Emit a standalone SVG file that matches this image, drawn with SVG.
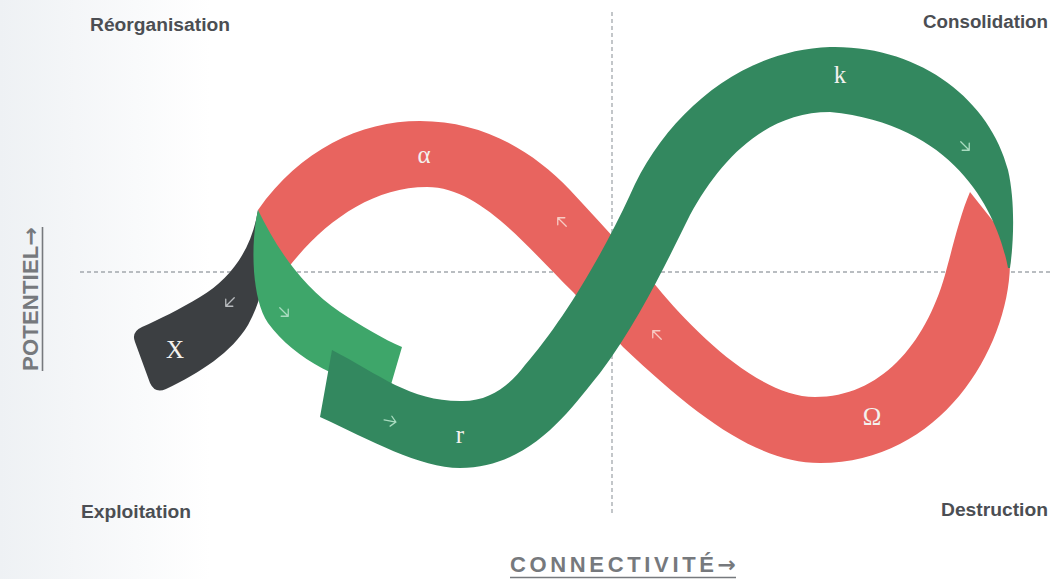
<svg xmlns="http://www.w3.org/2000/svg" width="1051" height="579" viewBox="0 0 1051 579">
<defs>
<linearGradient id="bg" x1="0" y1="0" x2="1" y2="0">
<stop offset="0" stop-color="#eef1f4"/>
<stop offset="0.2" stop-color="#ffffff"/>
<stop offset="1" stop-color="#ffffff"/>
</linearGradient>
<path id="arr" d="M -6,0 L 6,0 M 1,-5 L 6,0 L 1,5" fill="none" stroke-width="1.3" stroke-linecap="round" stroke-linejoin="round"/>
</defs>
<style>
.corner{font-family:"Liberation Sans",Arial,sans-serif;font-weight:bold;font-size:17.5px;fill:#4b4e53}
.axis{font-family:"Liberation Sans",Arial,sans-serif;font-weight:bold;font-size:22px;fill:#76797d}
.arrowch{font-family:"DejaVu Sans",sans-serif;font-weight:bold}
.greek{font-family:"Liberation Serif","DejaVu Serif",serif;font-size:25px;fill:#f3f1ee;text-anchor:middle}
.dash{stroke:#a3a8ad;stroke-width:1.3;stroke-dasharray:4 3;fill:none}
.red{fill:#e8645f}
.dgreen{fill:#33885f}
.lgreen{fill:#3ea66a}
.black{fill:#3c3f42}
.ar-red{stroke:#f7cbc4}
.ar-green{stroke:#a9dcc0}
.ar-black{stroke:#b9bcbf}
</style>
<rect x="0" y="0" width="1051" height="579" fill="url(#bg)"/>

<g id="axes">
<line class="dash" x1="80" y1="272" x2="1051" y2="272"/>
<line class="dash" x1="612" y1="12" x2="612" y2="515"/>
<text class="axis" x="510" y="572" textLength="226" lengthAdjust="spacing">CONNECTIVITÉ<tspan class="arrowch">→</tspan></text>
<line x1="510" y1="577.5" x2="736" y2="577.5" stroke="#76797d" stroke-width="1.6"/>
<text class="axis" transform="translate(38,371) rotate(-90)" x="0" y="0" textLength="144" lengthAdjust="spacing">POTENTIEL<tspan class="arrowch">→</tspan></text>
<line x1="42.5" y1="371" x2="42.5" y2="227" stroke="#76797d" stroke-width="1.6"/>
</g>

<g id="corner-labels">
<text class="corner" x="90" y="31" textLength="140" lengthAdjust="spacingAndGlyphs">Réorganisation</text>
<text class="corner" x="923" y="28" textLength="125" lengthAdjust="spacingAndGlyphs">Consolidation</text>
<text class="corner" x="81" y="518" textLength="110" lengthAdjust="spacingAndGlyphs">Exploitation</text>
<text class="corner" x="941" y="516" textLength="107" lengthAdjust="spacingAndGlyphs">Destruction</text>
</g>

<g id="connectors">
<g id="phase-alpha-omega">
<path class="red" d="M 258,210 C 300,150 360,121 420,121 C 480,121 530,148 570,190 C 600,222 630,255 657,287 C 695,333 760,397 815,397 C 880,397 925,345 945,275 C 952,250 960,215 970,192 L 1012,245 L 1010,265 C 1008,350 940,463 820,463 C 760,463 700,420 623,347 L 573,292 C 525,245 480,187 427,187 C 370,187 320,225 285,272 C 270,255 262,230 258,210 Z"/>
</g>
<g id="phase-x">
<path class="black" d="M 258,210 C 252,248 232,278 200,297 C 180,309 158,320 142,327 Q 131,332 135,342 L 150,383 Q 155,394 166,389 C 200,373 232,352 248,325 C 256,310 262,295 262,280 C 262,255 260,235 258,210 Z"/>
</g>
<g id="phase-r-start">
<path class="lgreen" d="M 258,210 C 275,245 300,285 340,312 C 360,325 385,340 402,347 L 390,388 C 345,385 295,360 268,323 C 252,300 250,245 258,210 Z"/>
</g>
<g id="phase-r-k">
<path class="dgreen" d="M 332,350 C 380,375 410,401 460,401 C 490,402 510,385 525,365 C 560,325 600,260 630,195 C 665,115 740,50 830,47 C 920,45 990,100 1008,170 C 1015,200 1014,240 1010,268 L 1008,268 C 1000,225 965,125 830,112 C 765,112 720,160 690,215 C 670,255 640,320 600,373 C 570,410 530,468 460,468 C 420,468 370,440 320,417 Z"/>
</g>
</g>

<g id="arrows">
<use href="#arr" class="ar-red" transform="translate(562,222) rotate(-135)"/>
<use href="#arr" class="ar-red" transform="translate(657,335) rotate(-135)"/>
<use href="#arr" class="ar-green" transform="translate(965,146) rotate(45)"/>
<use href="#arr" class="ar-green" transform="translate(284,312) rotate(45)"/>
<use href="#arr" class="ar-green" transform="translate(390,421) rotate(10)"/>
<use href="#arr" class="ar-black" transform="translate(230,302) rotate(135)"/>
</g>

<g id="phase-labels">
<text class="greek" x="424" y="163">α</text>
<text class="greek" x="840" y="83">k</text>
<text class="greek" x="175" y="358">X</text>
<text class="greek" x="460" y="443">r</text>
<text class="greek" x="872" y="425">Ω</text>
</g>
</svg>
